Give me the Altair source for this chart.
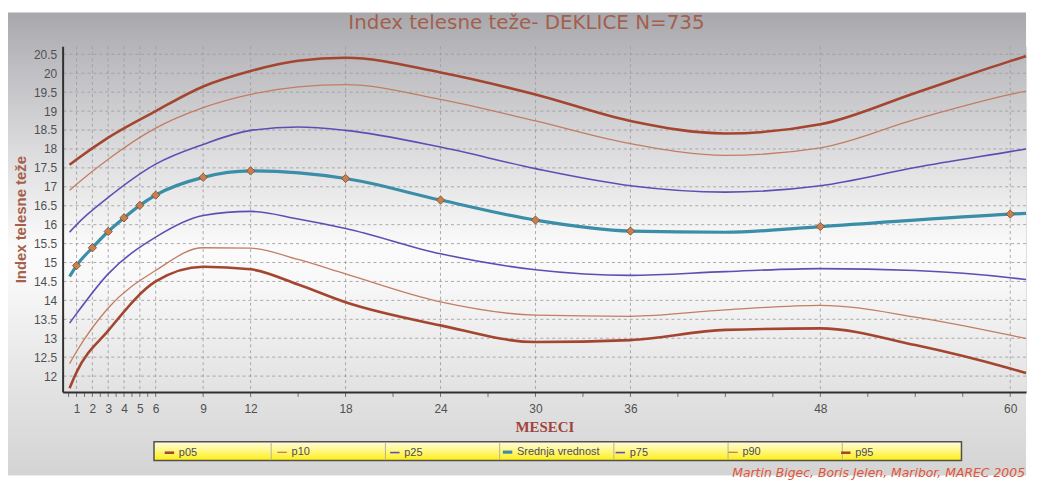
import altair as alt
import pandas as pd

# ---------------- data ----------------
series_order = ["p05", "p10", "p25", "Srednja vrednost", "p75", "p90", "p95"]
series_colors = ["#a3452f", "#c27d62", "#5a50b4", "#3a8ea8", "#5a50b4", "#c27d62", "#a3452f"]
series_widths = [2.6, 1.3, 1.6, 3.2, 1.6, 1.3, 2.6]

pct_months = [0.56, 1, 3, 6, 9, 12, 15, 18, 24, 30, 36, 42, 48, 54, 60, 61]
p05 = [11.68, 12.10, 13.20, 14.50, 14.89, 14.82, 14.42, 13.95, 13.34, 12.90, 12.95, 13.22, 13.26, 12.82, 12.20, 12.08]
p10 = [12.33, 12.65, 13.80, 14.79, 15.39, 15.38, 15.08, 14.70, 13.96, 13.61, 13.58, 13.75, 13.87, 13.56, 13.08, 12.99]
p25 = [13.40, 13.65, 14.70, 15.67, 16.24, 16.35, 16.15, 15.90, 15.23, 14.81, 14.66, 14.76, 14.84, 14.79, 14.60, 14.55]
p75 = [15.80, 16.00, 16.72, 17.60, 18.12, 18.49, 18.58, 18.49, 18.05, 17.48, 17.03, 16.86, 17.03, 17.51, 17.93, 18.00]
p90 = [16.91, 17.07, 17.73, 18.55, 19.09, 19.44, 19.64, 19.70, 19.31, 18.74, 18.14, 17.83, 18.03, 18.78, 19.44, 19.53]
p95 = [17.58, 17.72, 18.30, 19.00, 19.65, 20.06, 20.33, 20.41, 20.02, 19.44, 18.74, 18.41, 18.65, 19.48, 20.32, 20.45]

mean_months = [0.56, 1, 2, 3, 4, 5, 6, 9, 12, 18, 24, 30, 36, 42, 48, 60, 61]
mean_vals = [14.63, 14.92, 15.39, 15.82, 16.18, 16.51, 16.78, 17.25, 17.42, 17.22, 16.65, 16.12, 15.83, 15.80, 15.95, 16.28, 16.30]
marker_months = [1, 2, 3, 4, 5, 6, 9, 12, 18, 24, 30, 36, 48, 60]

x_ticks = [1, 2, 3, 4, 5, 6, 9, 12, 18, 24, 30, 36, 48, 60]
y_ticks = [12, 12.5, 13, 13.5, 14, 14.5, 15, 15.5, 16, 16.5, 17, 17.5, 18, 18.5, 19, 19.5, 20, 20.5]
minor_ticks = [0.5, 1, 1.5, 2, 2.5, 3, 3.5, 4, 4.5, 5, 5.5, 6, 9, 12, 15, 18, 21, 24, 27, 30,
               33, 36, 39, 42, 45, 48, 51, 54, 57, 60]

title_text = "Index telesne teže- DEKLICE N=735"
credit_text = "Martin Bigec, Boris Jelen, Maribor, MAREC 2005"

# ---------------- tables ----------------
rows = []
for name, vals in [("p05", p05), ("p10", p10), ("p25", p25), ("p75", p75), ("p90", p90), ("p95", p95)]:
    for m, v in zip(pct_months, vals):
        rows.append({"month": m, "bmi": v, "series": name})
for m, v in zip(mean_months, mean_vals):
    rows.append({"month": m, "bmi": v, "series": "Srednja vrednost"})
lines_df = pd.DataFrame(rows)

lookup = dict(zip(mean_months, mean_vals))
markers_df = pd.DataFrame({"month": marker_months, "bmi": [lookup[m] for m in marker_months]})
xgrid_df = pd.DataFrame({"month": x_ticks})
ygrid_df = pd.DataFrame({"bmi": y_ticks})
minor_df = pd.DataFrame({"month": minor_ticks})
one_df = pd.DataFrame({"a": [0]})
sep_df = pd.DataFrame({"k": [1, 2, 3, 4, 5, 6]})

W, H = 970, 348
xscale = alt.Scale(domain=[0.12, 61.0], zero=False, nice=False)
yscale = alt.Scale(domain=[11.58, 20.71], zero=False, nice=False)

x_axis = alt.Axis(
    values=x_ticks, title="MESECI", grid=False, tickSize=0, labelPadding=12,
    labelFont="Liberation Sans", labelFontSize=12, labelColor="#505050",
    titleFont="Liberation Serif", titleFontSize=15, titleFontWeight="bold",
    titleColor="#a04440", titlePadding=5, labelOverlap=False,
    domainColor="#303030", domainWidth=2, zindex=1,
)
y_axis = alt.Axis(
    values=y_ticks, format="~g", title="Index telesne teže", grid=False,
    tickSize=0, labelPadding=6, labelOverlap=False,
    labelFont="Liberation Sans", labelFontSize=12, labelColor="#505050",
    titleFont="Liberation Sans", titleFontSize=15, titleFontWeight="bold",
    titleColor="#a5604a", titlePadding=5,
    domainColor="#303030", domainWidth=2, zindex=1,
)
X = lambda: alt.X("month:Q", scale=xscale, axis=x_axis)
Y = lambda: alt.Y("bmi:Q", scale=yscale, axis=y_axis)

# ---------------- layers ----------------
bg = alt.Chart(one_df).mark_rect(
    fill=alt.LinearGradient(
        gradient="linear", x1=0, y1=0, x2=0, y2=1,
        stops=[
            alt.GradientStop(offset=0, color="#a8a8ac"),
            alt.GradientStop(offset=0.11, color="#bdbdc1"),
            alt.GradientStop(offset=0.30, color="#dcdcde"),
            alt.GradientStop(offset=0.51, color="#fbfbfb"),
            alt.GradientStop(offset=0.58, color="#f8f8f8"),
            alt.GradientStop(offset=0.82, color="#e2e2e2"),
            alt.GradientStop(offset=1, color="#d4d4d4"),
        ],
    )
).encode(x=alt.value(-55), x2=alt.value(970), y=alt.value(-34), y2=alt.value(432))

grid_style = dict(color="#9c9c9c", strokeDash=[3, 3], strokeWidth=1, opacity=0.85)
xgrid = alt.Chart(xgrid_df).mark_rule(**grid_style).encode(x=X())
ygrid = alt.Chart(ygrid_df).mark_rule(**grid_style).encode(y=Y())

minor = alt.Chart(minor_df).mark_rule(color="#707070", strokeWidth=1).encode(
    x=X(), y=alt.value(H + 1), y2=alt.value(H + 5)
)

# legend box (decoration) drawn beneath the transparent legend
legend_box = alt.Chart(one_df).mark_rect(
    stroke="#505050", strokeWidth=1.5,
    fill=alt.LinearGradient(
        gradient="linear", x1=0, y1=0, x2=0, y2=1,
        stops=[
            alt.GradientStop(offset=0, color="#fffbe0"),
            alt.GradientStop(offset=0.45, color="#fff78a"),
            alt.GradientStop(offset=1, color="#ffee10"),
        ],
    ),
).encode(x=alt.value(92), x2=alt.value(905), y=alt.value(398), y2=alt.value(417))

legend_sep = alt.Chart(sep_df).mark_rule(color="#b4b49c", strokeWidth=1).transform_calculate(
    px="95 + 115 * datum.k"
).encode(x=alt.X("px:Q", scale=None), y=alt.value(399), y2=alt.value(416))

lines = alt.Chart(lines_df).mark_line(interpolate="monotone").encode(
    x=X(),
    y=Y(),
    color=alt.Color(
        "series:N",
        scale=alt.Scale(domain=series_order, range=series_colors),
        legend=alt.Legend(
            title=None, orient="none", legendX=97, legendY=398, direction="horizontal",
            columns=7, gridAlign="all", columnPadding=8.5,
            symbolType="stroke", symbolSize=90, symbolStrokeWidth=2.5,
            labelFont="Liberation Sans", labelFontSize=11, labelColor="#4a4a66",
            labelOffset=3, padding=4,
        ),
    ),
    strokeWidth=alt.StrokeWidth(
        "series:N",
        scale=alt.Scale(type="ordinal", domain=series_order, range=series_widths),
        legend=None,
    ),
    detail="series:N",
)

markers = alt.Chart(markers_df).mark_point(
    shape="diamond", filled=True, size=70, fill="#c98050", stroke="#7e4526",
    strokeWidth=0.8, opacity=1,
).encode(x=X(), y=Y())

title = alt.Chart(one_df).mark_text(
    text=title_text, align="center", baseline="middle", font="DejaVu Sans",
    fontSize=20, color="#a35f4c",
).encode(x=alt.value(467), y=alt.value(-23))

credit = alt.Chart(one_df).mark_text(
    text=credit_text, align="right", baseline="middle", font="DejaVu Sans",
    fontSize=12.5, fontStyle="italic", color="#e0553a",
).encode(x=alt.value(969), y=alt.value(430))

chart = alt.layer(
    bg, xgrid, ygrid, minor, legend_box, legend_sep, lines, markers, title, credit
).properties(
    width=W, height=H,
    padding={"top": 3, "left": 0, "right": 0, "bottom": 0},
).configure_view(stroke=None).configure(background="white")

chart.save("out.html", embed_options={"renderer": "svg", "actions": False})
